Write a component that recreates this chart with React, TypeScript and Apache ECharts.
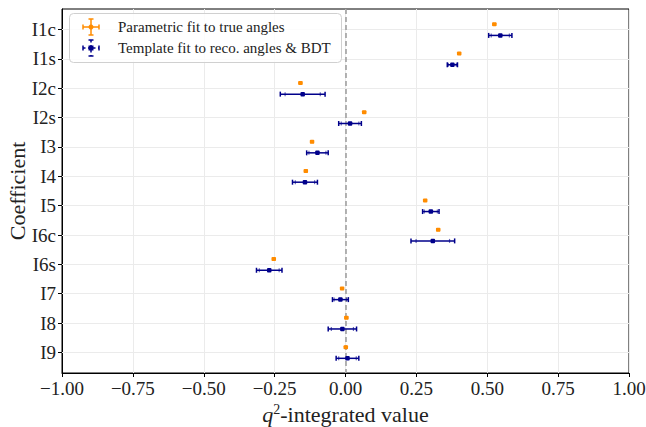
import React, { useEffect, useRef } from "react";
import * as echarts from "echarts";

const categories = ["I1c", "I1s", "I2c", "I2s", "I3", "I4", "I5", "I6c", "I6s", "I7", "I8", "I9"];
const parametricValues = [0.525, 0.401, -0.159, 0.066, -0.118, -0.14, 0.281, 0.327, -0.253, -0.012, 0.003, 0.001];
const parametricErrors = [0.004, 0.004, 0.004, 0.004, 0.004, 0.004, 0.004, 0.004, 0.004, 0.004, 0.004, 0.004];
const templateValues = [0.546, 0.377, -0.151, 0.016, -0.099, -0.143, 0.301, 0.308, -0.269, -0.018, -0.011, 0.007];
const templateErrors = [0.041, 0.018, 0.079, 0.04, 0.038, 0.044, 0.029, 0.077, 0.045, 0.028, 0.05, 0.04];
const templateStatErrors = [0.032, 0.014, 0.062, 0.031, 0.03, 0.034, 0.023, 0.059, 0.035, 0.022, 0.039, 0.031];

const FONT = "Liberation Serif";
const ORANGE = "#ff8c00";
const NAVY = "#00008b";
const PARAM_OFFSET = -0.18;
const TEMPLATE_OFFSET = 0.2;

export default function App() {
  const ref = useRef<HTMLDivElement>(null);
  useEffect(() => {
    if (!ref.current) return;
    const chart = echarts.init(ref.current, null, { renderer: "svg" });
    const catIdx = categories.map((_, i) => i);

    const errRender = (color: string, capH: number, innerCap: boolean, markerW: number, markerH: number) =>
      (params: any, api: any) => {
        const v = api.value(0);
        const y = api.value(1);
        const e = api.value(2);
        const s = api.value(3);
        const c = api.coord([v, y]);
        const l = api.coord([v - e, y]);
        const r = api.coord([v + e, y]);
        const style = { stroke: color, lineWidth: 1.5 };
        const children: any[] = [
          { type: "line", shape: { x1: l[0], y1: c[1], x2: r[0], y2: c[1] }, style },
          { type: "line", shape: { x1: l[0], y1: c[1] - capH, x2: l[0], y2: c[1] + capH }, style },
          { type: "line", shape: { x1: r[0], y1: c[1] - capH, x2: r[0], y2: c[1] + capH }, style },
        ];
        if (innerCap) {
          const li = api.coord([v - s, y]);
          const ri = api.coord([v + s, y]);
          children.push(
            { type: "line", shape: { x1: li[0], y1: c[1] - capH + 0.5, x2: li[0], y2: c[1] + capH - 0.5 }, style: { stroke: color, lineWidth: 1.2, opacity: 0.6 } },
            { type: "line", shape: { x1: ri[0], y1: c[1] - capH + 0.5, x2: ri[0], y2: c[1] + capH - 0.5 }, style: { stroke: color, lineWidth: 1.2, opacity: 0.6 } }
          );
        }
        children.push({
          type: "rect",
          shape: { x: c[0] - markerW / 2, y: c[1] - markerH / 2, width: markerW, height: markerH, r: 1 },
          style: { fill: color },
        });
        return { type: "group", children };
      };

    const legendX = 91;
    const lg1 = 27;
    const lg2 = 48;
    const ls = (c: string, dash?: number[]) => (dash ? { stroke: c, lineWidth: 1.5, lineDash: dash } : { stroke: c, lineWidth: 1.5 });
    const legendGraphic: any[] = [
      {
        type: "rect",
        shape: { x: 69.5, y: 13.5, width: 272, height: 49, r: 4 },
        style: { fill: "rgba(255,255,255,0.85)", stroke: "#d0d0d0", lineWidth: 1 },
        z: 100,
      },
      { type: "line", shape: { x1: legendX - 8, y1: lg1, x2: legendX + 8, y2: lg1 }, style: ls(ORANGE), z: 101 },
      { type: "line", shape: { x1: legendX, y1: lg1 - 8, x2: legendX, y2: lg1 + 8 }, style: ls(ORANGE), z: 101 },
      { type: "line", shape: { x1: legendX - 8, y1: lg1 - 2.5, x2: legendX - 8, y2: lg1 + 2.5 }, style: ls(ORANGE), z: 101 },
      { type: "line", shape: { x1: legendX + 8, y1: lg1 - 2.5, x2: legendX + 8, y2: lg1 + 2.5 }, style: ls(ORANGE), z: 101 },
      { type: "line", shape: { x1: legendX - 2.5, y1: lg1 - 8, x2: legendX + 2.5, y2: lg1 - 8 }, style: ls(ORANGE), z: 101 },
      { type: "line", shape: { x1: legendX - 2.5, y1: lg1 + 8, x2: legendX + 2.5, y2: lg1 + 8 }, style: ls(ORANGE), z: 101 },
      { type: "circle", shape: { cx: legendX, cy: lg1, r: 2.5 }, style: { fill: ORANGE }, z: 101 },
      { type: "line", shape: { x1: legendX - 8, y1: lg2, x2: legendX + 8, y2: lg2 }, style: ls(NAVY, [2.5, 2.5]), z: 101 },
      { type: "line", shape: { x1: legendX, y1: lg2 - 8, x2: legendX, y2: lg2 + 8 }, style: ls(NAVY, [2.5, 2.5]), z: 101 },
      { type: "line", shape: { x1: legendX - 8, y1: lg2 - 2.5, x2: legendX - 8, y2: lg2 + 2.5 }, style: ls(NAVY), z: 101 },
      { type: "line", shape: { x1: legendX + 8, y1: lg2 - 2.5, x2: legendX + 8, y2: lg2 + 2.5 }, style: ls(NAVY), z: 101 },
      { type: "line", shape: { x1: legendX - 2.5, y1: lg2 - 8, x2: legendX + 2.5, y2: lg2 - 8 }, style: ls(NAVY), z: 101 },
      { type: "line", shape: { x1: legendX - 2.5, y1: lg2 + 8, x2: legendX + 2.5, y2: lg2 + 8 }, style: ls(NAVY), z: 101 },
      { type: "rect", shape: { x: legendX - 2.5, y: lg2 - 2.5, width: 5, height: 5 }, style: { fill: NAVY }, z: 101 },
      {
        type: "text",
        x: 118,
        y: lg1,
        style: { text: "Parametric fit to true angles", font: `15px '${FONT}'`, fill: "#222", verticalAlign: "middle" },
        z: 101,
      },
      {
        type: "text",
        x: 118,
        y: lg2,
        style: { text: "Template fit to reco. angles & BDT", font: `15px '${FONT}'`, fill: "#222", verticalAlign: "middle" },
        z: 101,
      },
    ];

    chart.setOption({
      animation: false,
      backgroundColor: "#fff",
      grid: {
        left: 62,
        right: 17,
        top: 9,
        bottom: 54,
        outerBoundsMode: "none",
        containLabel: false,
        show: true,
        borderColor: "#000",
        borderWidth: 1,
        backgroundColor: "transparent",
      },
      xAxis: {
        type: "value",
        min: -1,
        max: 1,
        interval: 0.25,
        name: "{q|q}{sup|2}{t|-integrated value}",
        nameLocation: "middle",
        nameGap: 28,
        nameTextStyle: {
          rich: {
            q: { fontFamily: FONT, fontSize: 22, fontStyle: "italic", color: "#222" },
            sup: { fontFamily: FONT, fontSize: 14, color: "#222", verticalAlign: "top", padding: [0, 0, 10, 0] },
            t: { fontFamily: FONT, fontSize: 22, color: "#222" },
          },
        },
        axisLine: { show: true, onZero: false, lineStyle: { color: "#000", width: 1 } },
        axisTick: { show: true, length: 4, lineStyle: { color: "#000" } },
        axisLabel: {
          fontFamily: FONT,
          fontSize: 19,
          color: "#222",
          margin: 6,
          formatter: (v: number) => (v < 0 ? "\u2212" : "") + Math.abs(v).toFixed(2),
        },
        splitLine: { show: true, lineStyle: { color: "#ebebeb", width: 1 } },
      },
      yAxis: {
        type: "value",
        inverse: true,
        min: -0.7,
        max: 11.7,
        name: "Coefficient",
        nameLocation: "middle",
        nameGap: 34,
        nameMoveOverlap: false,
        nameTextStyle: { fontFamily: FONT, fontSize: 22, color: "#222" },
        axisLine: { show: true, onZero: false, lineStyle: { color: "#000", width: 1 } },
        axisTick: { show: true, length: 4, lineStyle: { color: "#000" }, customValues: catIdx },
        axisLabel: {
          fontFamily: FONT,
          fontSize: 19,
          color: "#222",
          margin: 6,
          customValues: catIdx,
          formatter: (v: number) => categories[Math.round(v)] ?? "",
        },
        splitLine: { show: false },
      },
      graphic: legendGraphic,
      series: [
        {
          type: "custom",
          name: "grid",
          silent: true,
          z: 1,
          data: [],
          renderItem: () => null,
          markLine: {
            silent: true,
            symbol: "none",
            label: { show: false },
            lineStyle: { color: "#ebebeb", width: 1, type: "solid" },
            data: catIdx.map((i) => ({ yAxis: i })),
          },
        },
        {
          type: "custom",
          name: "zero",
          silent: true,
          z: 2,
          data: [],
          renderItem: () => null,
          markLine: {
            silent: true,
            symbol: "none",
            label: { show: false },
            lineStyle: { color: "#9a9a9a", width: 1.5, type: [5, 3] },
            data: [{ xAxis: 0 }],
          },
        },
        {
          type: "custom",
          name: "Parametric fit to true angles",
          z: 5,
          encode: { x: 0, y: 1 },
          renderItem: errRender(ORANGE, 1.5, false, 4.5, 4),
          data: parametricValues.map((v, i) => [v, i + PARAM_OFFSET, parametricErrors[i], 0]),
        },
        {
          type: "custom",
          name: "Template fit to reco. angles & BDT",
          z: 6,
          encode: { x: 0, y: 1 },
          renderItem: errRender(NAVY, 2.5, true, 4.5, 4.5),
          data: templateValues.map((v, i) => [v, i + TEMPLATE_OFFSET, templateErrors[i], templateStatErrors[i]]),
        },
      ],
    });
    return () => chart.dispose();
  }, []);
  return <div ref={ref} style={{ position: "absolute", left: 0, top: 0, width: 646, height: 427 }} />;
}
